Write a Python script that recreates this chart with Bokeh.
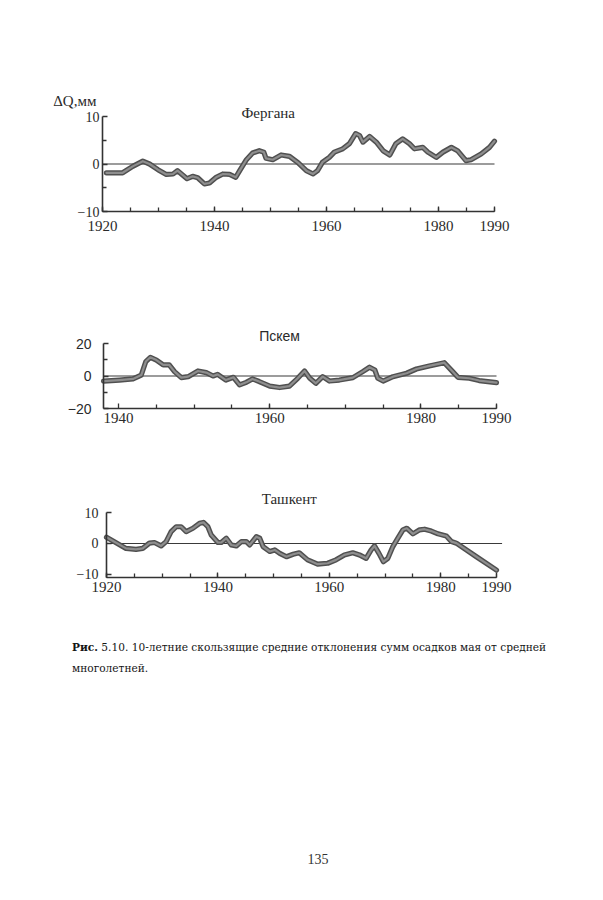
from bokeh.plotting import figure
from bokeh.layouts import column
from bokeh.models import FixedTicker, Label, Range1d, Div
from bokeh.embed import file_html
from bokeh.resources import INLINE

# ---------------- data ----------------
fer_years = [1920.7, 1923.6, 1925.4, 1927.2, 1928.4, 1929.9, 1931.4, 1932.6, 1933.4, 1934.3,
             1935.1, 1936.1, 1937.0, 1938.2, 1939.1, 1940.3, 1941.5, 1942.7, 1943.8, 1944.5,
             1945.7, 1946.8, 1948.0, 1948.8, 1949.2, 1950.4, 1951.9, 1953.4, 1954.9, 1956.4,
             1957.6, 1958.4, 1959.3, 1960.5, 1961.4, 1962.9, 1964.1, 1965.2, 1965.9, 1966.5,
             1967.7, 1968.9, 1970.1, 1971.3, 1972.4, 1973.6, 1974.8, 1975.7, 1977.2, 1978.1,
             1979.6, 1980.8, 1982.3, 1983.4, 1984.9, 1985.8, 1987.6, 1989.1, 1990.0]
fer_vals = [-1.85, -1.85, -0.5, 0.6, 0.0, -1.2, -2.2, -2.1, -1.4, -2.3,
            -3.1, -2.6, -2.9, -4.2, -4.0, -2.8, -2.1, -2.2, -2.8, -1.4,
            0.9, 2.3, 2.8, 2.5, 1.2, 0.9, 1.9, 1.6, 0.3, -1.4,
            -2.1, -1.4, 0.4, 1.4, 2.5, 3.2, 4.3, 6.4, 6.0, 4.6,
            5.8, 4.6, 2.8, 1.9, 4.3, 5.3, 4.3, 3.2, 3.5, 2.5,
            1.4, 2.5, 3.5, 2.8, 0.7, 0.9, 2.1, 3.5, 4.8]

psk_years = [1938.0, 1940.1, 1941.9, 1943.0, 1943.6, 1944.2, 1945.0, 1945.9, 1946.7, 1947.4,
             1948.3, 1949.2, 1950.5, 1951.6, 1952.5, 1953.1, 1954.2, 1955.2, 1956.0, 1956.9,
             1957.7, 1958.6, 1960.0, 1961.3, 1962.6, 1963.7, 1964.6, 1965.3, 1966.1, 1967.0,
             1967.9, 1969.2, 1971.0, 1972.3, 1973.2, 1973.9, 1974.3, 1975.0, 1976.3, 1978.1,
             1979.4, 1981.1, 1983.1, 1984.2, 1984.9, 1986.4, 1987.7, 1990.0]
psk_vals = [-3.1, -2.5, -1.8, 0.6, 8.9, 11.5, 9.8, 6.8, 6.8, 2.7,
            -1.0, -0.4, 3.1, 2.1, 0.0, 1.0, -2.5, -0.8, -5.5, -3.9,
            -1.8, -3.4, -6.2, -7.1, -6.2, -1.4, 3.1, -1.4, -4.5, -0.4,
            -3.1, -2.5, -1.0, 2.7, 5.4, 3.7, -1.4, -3.1, -0.4, 1.7,
            4.3, 6.2, 8.2, 2.7, -0.8, -1.4, -2.8, -4.1]

tas_years = [1920.0, 1921.1, 1923.5, 1925.3, 1926.5, 1927.7, 1928.6, 1929.8, 1930.7, 1931.6,
             1932.5, 1933.4, 1934.3, 1935.5, 1936.7, 1937.4, 1938.2, 1938.8, 1940.0, 1940.6,
             1941.5, 1942.4, 1943.3, 1944.2, 1945.1, 1945.7, 1946.9, 1947.5, 1948.1, 1949.3,
             1950.2, 1951.1, 1952.3, 1953.5, 1954.6, 1956.1, 1957.9, 1959.7, 1961.2, 1962.7,
             1964.2, 1965.4, 1966.6, 1967.5, 1968.1, 1968.9, 1969.7, 1970.5, 1971.4, 1972.3,
             1973.2, 1973.9, 1975.0, 1976.2, 1977.1, 1978.3, 1979.5, 1981.0, 1981.9, 1982.8,
             1986.4, 1990.0]
tas_vals = [2.0, 0.9, -1.6, -1.9, -1.6, 0.1, 0.3, -0.8, 0.6, 3.8,
            5.4, 5.4, 3.8, 4.9, 6.5, 6.8, 5.4, 2.7, 0.3, 0.3,
            1.7, -0.5, -0.8, 0.6, 0.6, -0.5, 2.2, 1.7, -1.0, -2.6,
            -2.1, -3.2, -4.3, -3.5, -3.0, -5.3, -6.7, -6.4, -5.3, -3.7,
            -3.0, -3.7, -4.8, -2.1, -0.8, -3.2, -5.9, -4.8, -1.0, 1.7,
            4.4, 4.9, 3.1, 4.4, 4.6, 4.0, 3.1, 2.4, 0.6, 0.1,
            -4.3, -8.6]

x_labels_full = [1920, 1940, 1960, 1980, 1990]
x_labels_psk = [1940, 1960, 1980, 1990]
y_labels_fer = [-10, 0, 10]
y_labels_psk = [-20, 0, 20]
y_labels_tas = [-10, 0, 10]

titles = ["Фергана", "Пскем", "Ташкент"]
unit_label = "ΔQ,мм"
caption_bold = "Рис."
caption_1 = "5.10. 10-летние скользящие средние отклонения сумм осадков мая от средней"
caption_2 = "многолетней."
page_no = "135"

# ---------------- style / layout ----------------
EDGE_COL = "#505050"
FILL_COL = "#8e8e8e"
AX_COL = "#333333"
TXT_COL = "#2a2a2a"
SERIF = "Liberation Serif"
SANS = "Liberation Sans"
W = 587
BL, BR = 40, 20          # figure borders (frame spans BL .. W-BR)


def panel(fig_top, height, top, bottom, xbounds, xpix, ybounds, ypix,
          xt, xminor, yt, yminor, ylab_font, ylab_standoff, xlab_standoff, zero_end):
    """Axis bounds xbounds/ybounds are placed at layout pixels xpix/ypix."""
    f_top = fig_top + top
    f_bot = fig_top + height - bottom
    sy = (ypix[0] - ypix[1]) / (ybounds[1] - ybounds[0])
    y0 = ybounds[0] - (f_bot - ypix[0]) / sy
    y1 = ybounds[1] + (ypix[1] - f_top) / sy
    sx = (xpix[1] - xpix[0]) / (xbounds[1] - xbounds[0])
    x0 = xbounds[0] - (xpix[0] - BL) / sx
    x1 = xbounds[1] + ((W - BR) - xpix[1]) / sx
    p = figure(width=W, height=height, x_range=Range1d(x0, x1), y_range=Range1d(y0, y1),
               output_backend="svg", toolbar_location=None,
               min_border_left=BL, min_border_right=BR,
               min_border_top=top, min_border_bottom=bottom)
    p.outline_line_color = None
    p.grid.visible = False
    p.background_fill_color = "white"
    p.border_fill_color = "white"
    for ax in (p.xaxis[0], p.yaxis[0]):
        ax.axis_line_color = AX_COL
        ax.axis_line_width = 1.6
        ax.major_tick_line_color = AX_COL
        ax.minor_tick_line_color = AX_COL
        ax.major_tick_line_width = 1.3
        ax.minor_tick_line_width = 1.3
        ax.major_tick_in = 5
        ax.major_tick_out = 0
        ax.minor_tick_in = 4
        ax.minor_tick_out = 0
        ax.major_label_text_color = TXT_COL
    p.xaxis.bounds = xbounds
    p.yaxis.bounds = ybounds
    p.yaxis.fixed_location = xbounds[0]
    p.xaxis.fixed_location = ybounds[0]
    p.xaxis.ticker = FixedTicker(ticks=xt, minor_ticks=xminor)
    p.yaxis.ticker = FixedTicker(ticks=yt, minor_ticks=yminor)
    p.xaxis.major_label_text_font = SERIF
    p.xaxis.major_label_text_font_size = "15px"
    p.xaxis.major_label_standoff = xlab_standoff
    p.yaxis.major_label_text_font = ylab_font
    p.yaxis.major_label_text_font_size = "14px"
    p.yaxis.major_label_standoff = ylab_standoff
    # zero reference line
    p.line([xbounds[0], zero_end], [0, 0], line_color="#3a3a3a", line_width=1.1)
    return p


def curve(p, xs, ys):
    p.line(xs, ys, line_color=EDGE_COL, line_width=5.2, line_join="round", line_cap="round")
    p.line(xs, ys, line_color=FILL_COL, line_width=2.2, line_join="round", line_cap="round")


# Фергана
p1 = panel(0, 280, 60, 40, (1920, 1990), (102, 494), (-10, 10), (211, 116),
           x_labels_full, list(range(1920, 1991, 5)), y_labels_fer, [-5, 5],
           SERIF, 3, 9, 1990)
curve(p1, fer_years, fer_vals)
p1.add_layout(Label(x=1949.6, y=10.8, text=titles[0], text_align="center", text_baseline="middle",
                    text_font=SERIF, text_font_size="15px", text_color=TXT_COL))
p1.add_layout(Label(x=1911.2, y=13.2, text=unit_label, text_align="left", text_baseline="middle",
                    text_font=SERIF, text_font_size="15px", text_color=TXT_COL))

# Пскем
p2 = panel(280, 190, 30, 35, (1938, 1990), (103, 496), (-20, 20), (408, 343),
           x_labels_psk, list(range(1945, 1991, 5)), y_labels_psk, [-10, 10],
           SANS, 12, 4, 1990)
curve(p2, psk_years, psk_vals)
p2.add_layout(Label(x=1961.3, y=24.5, text=titles[1], text_align="center", text_baseline="middle",
                    text_font=SANS, text_font_size="14px", text_color=TXT_COL))

# Ташкент
p3 = panel(470, 160, 15, 28, (1920, 1990), (106, 496), (-11, 10), (577, 512),
           x_labels_full, list(range(1920, 1991, 5)), y_labels_tas, [],
           SERIF, 8, 4, 1991)
curve(p3, tas_years, tas_vals)
p3.add_layout(Label(x=1952.8, y=14.5, text=titles[2], text_align="center", text_baseline="middle",
                    text_font=SERIF, text_font_size="15px", text_color=TXT_COL))

# footer: caption and page number
footer_html = (
    '<div style="position:relative;width:587px;height:254px;color:#151515;">'
    '<div style="position:absolute;left:67px;top:2px;white-space:nowrap;'
    'font-family:\'DejaVu Serif\';font-size:10.6px;line-height:21px;">'
    f'<b>{caption_bold}</b> {caption_1}<br>{caption_2}</div>'
    '<div style="position:absolute;left:300px;top:215px;width:26px;text-align:center;'
    f'font-family:\'Liberation Serif\';font-size:14px;color:#333;">{page_no}</div>'
    '</div>'
)
footer = Div(text=footer_html, width=W, height=254)

layout = column(p1, p2, p3, footer, spacing=0)
open("out.html", "w").write(file_html(layout, INLINE))
